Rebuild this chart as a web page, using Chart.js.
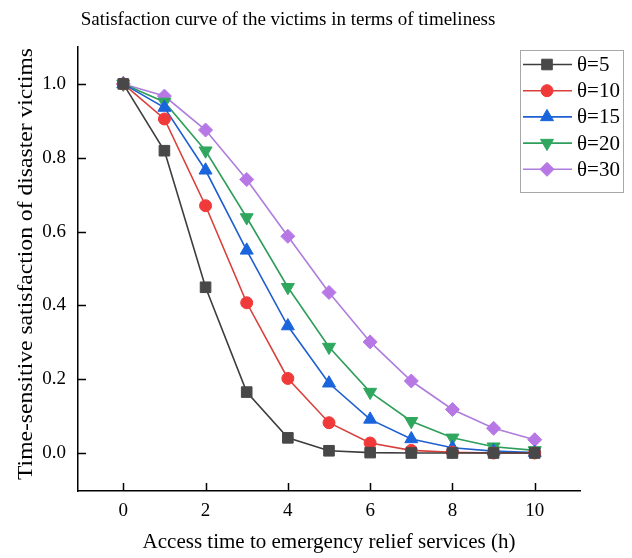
<!DOCTYPE html>
<html>
<head>
<meta charset="utf-8">
<script src="https://cdn.jsdelivr.net/npm/chart.js@4/dist/chart.umd.min.js"></script>
<style>
  html, body { margin: 0; padding: 0; background: #fff; }
  #wrap { width: 632px; height: 558px; }
</style>
</head>
<body>
<div id="wrap"><canvas id="chart" width="632" height="558"></canvas></div>
<script>
// Access time (h)
const hours = [0, 1, 2, 3, 4, 5, 6, 7, 8, 9, 10];
const xTicks = [0, 2, 4, 6, 8, 10];
const yTicks = [0, 0.2, 0.4, 0.6, 0.8, 1.0];

// Satisfaction, one list per theta
const theta5  = [1.0, 0.819, 0.449, 0.165, 0.041, 0.006, 0.001, 0.0, 0.0, 0.0, 0.0];
const theta10 = [1.0, 0.905, 0.670, 0.407, 0.202, 0.082, 0.027, 0.007, 0.002, 0.0, 0.0];
const theta15 = [1.0, 0.936, 0.766, 0.549, 0.344, 0.189, 0.091, 0.038, 0.014, 0.005, 0.001];
const theta20 = [1.0, 0.951, 0.819, 0.638, 0.449, 0.287, 0.165, 0.086, 0.041, 0.017, 0.007];
const theta30 = [1.0, 0.967, 0.875, 0.741, 0.587, 0.435, 0.301, 0.195, 0.118, 0.067, 0.036];

const seriesLabels = ['θ=5', 'θ=10', 'θ=15', 'θ=20', 'θ=30'];

const SERIF = '"Liberation Serif", "Times New Roman", serif';

function makeSet(label, values, color, fill, style, radius, rotation) {
    return {
        label: label,
        data: values.map((v, i) => ({ x: hours[i], y: v })),
        borderColor: color,
        backgroundColor: fill,
        borderWidth: 1.6,
        pointStyle: style,
        pointRadius: radius,
        pointRotation: rotation || 0,
        pointBackgroundColor: fill,
        pointBorderColor: fill,
        pointBorderWidth: 1,
        tension: 0
    };
}

const datasets = [
    makeSet(seriesLabels[0], theta5, '#3d3d3d', '#484848', 'rect', 7.5),
    makeSet(seriesLabels[1], theta10, '#d8403c', '#f03a3a', 'circle', 6),
    makeSet(seriesLabels[2], theta15, '#1f5fd0', '#1a64dc', 'triangle', 7.5),
    makeSet(seriesLabels[3], theta20, '#2e9e5a', '#2fa75e', 'triangle', 7.5, 180),
    makeSet(seriesLabels[4], theta30, '#ae7ddd', '#b778e6', 'rectRot', 7)
];

// title, y title, inward ticks and the boxed legend are drawn here
const decorPlugin = {
    id: 'decor',
    afterDraw(chart) {
        const ctx = chart.ctx;
        const xs = chart.scales.x, ys = chart.scales.y;
        ctx.save();

        // inward tick marks
        ctx.strokeStyle = '#000';
        ctx.lineWidth = 1.5;
        ctx.beginPath();
        xTicks.forEach(t => {
            const px = Math.round(xs.getPixelForValue(t)) + 0.5;
            ctx.moveTo(px, ys.bottom);
            ctx.lineTo(px, ys.bottom - 8);
        });
        yTicks.forEach(t => {
            const py = Math.round(ys.getPixelForValue(t)) + 0.5;
            ctx.moveTo(xs.left, py);
            ctx.lineTo(xs.left + 8, py);
        });
        ctx.stroke();

        // title
        ctx.fillStyle = '#000';
        ctx.font = '19px ' + SERIF;
        ctx.textAlign = 'center';
        ctx.textBaseline = 'middle';
        ctx.fillText('Satisfaction curve of the victims in terms of timeliness', 288, 20);

        // y axis title, stretched along its length like the source
        const yTitle = 'Time-sensitive satisfaction of disaster victims';
        ctx.font = '21px ' + SERIF;
        const w = ctx.measureText(yTitle).width;
        ctx.save();
        ctx.translate(26, 264);
        ctx.rotate(-Math.PI / 2);
        ctx.scale(432 / w, 1);
        ctx.fillText(yTitle, 0, 0);
        ctx.restore();

        // legend box
        const bx = 520, by = 50, bw = 103, bh = 142;
        ctx.fillStyle = '#fff';
        ctx.fillRect(bx, by, bw, bh);
        ctx.strokeStyle = '#a8a8a8';
        ctx.lineWidth = 1;
        ctx.strokeRect(bx + 0.5, by + 0.5, bw, bh);

        chart.data.datasets.forEach((ds, i) => {
            const cy = 64.5 + i * 26.2;
            ctx.strokeStyle = ds.borderColor;
            ctx.lineWidth = ds.borderWidth;
            ctx.beginPath();
            ctx.moveTo(523, cy);
            ctx.lineTo(572, cy);
            ctx.stroke();
            ctx.fillStyle = ds.pointBackgroundColor;
            ctx.strokeStyle = ds.pointBorderColor;
            ctx.lineWidth = 1;
            Chart.helpers.drawPoint(ctx, {
                pointStyle: ds.pointStyle,
                radius: ds.pointRadius,
                rotation: ds.pointRotation,
                borderWidth: 1
            }, 547, cy);
            ctx.fillStyle = '#000';
            ctx.font = '21px ' + SERIF;
            ctx.textAlign = 'left';
            ctx.textBaseline = 'middle';
            ctx.fillText(ds.label, 577, cy + 1);
        });

        ctx.restore();
    }
};

new Chart(document.getElementById('chart'), {
    type: 'line',
    data: { datasets: datasets },
    options: {
        responsive: false,
        animation: false,
        layout: { padding: { top: 47, right: 52, left: 0, bottom: 0 } },
        plugins: {
            legend: { display: false },
            title: { display: false },
            tooltip: { enabled: false }
        },
        scales: {
            x: {
                type: 'linear',
                min: -1.1,
                max: 11.1,
                afterBuildTicks: s => { s.ticks = xTicks.map(v => ({ value: v })); },
                afterFit: s => { s.height = 67; },
                grid: { display: false, drawTicks: false },
                border: { display: true, color: '#000', width: 1.5 },
                ticks: {
                    padding: 9,
                    color: '#000',
                    font: { family: SERIF, size: 19 },
                    maxRotation: 0
                },
                title: {
                    display: true,
                    text: 'Access time to emergency relief services (h)',
                    color: '#000',
                    font: { family: SERIF, size: 21 },
                    padding: { top: 4, bottom: 3 }
                }
            },
            y: {
                type: 'linear',
                min: -0.103,
                max: 1.1,
                afterBuildTicks: s => { s.ticks = yTicks.map(v => ({ value: v })); },
                afterFit: s => { s.width = 78; },
                grid: { display: false, drawTicks: false },
                border: { display: true, color: '#000', width: 1.5 },
                ticks: {
                    padding: 12,
                    color: '#000',
                    font: { family: SERIF, size: 19 },
                    callback: v => v.toFixed(1)
                },
                title: { display: false }
            }
        }
    },
    plugins: [decorPlugin]
});
</script>
</body>
</html>
